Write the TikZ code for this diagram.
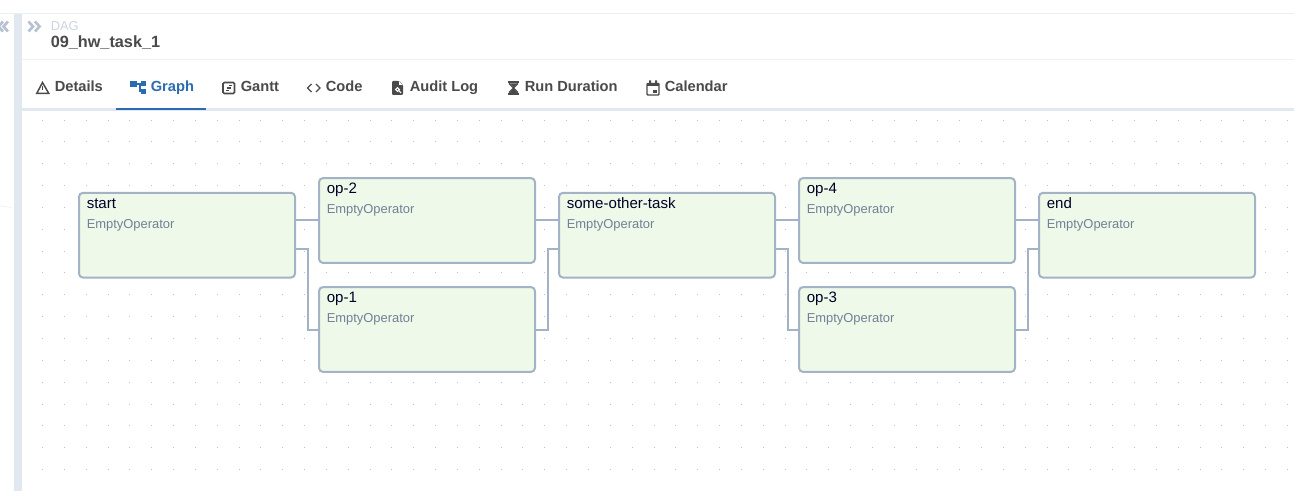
\documentclass[tikz,border=0pt]{standalone}
\usepackage{fontspec}
\setmainfont{Liberation Sans}
\definecolor{barblue}{HTML}{E2E8F0}
\definecolor{hairgray}{HTML}{EDF2F7}
\definecolor{edgegray}{HTML}{A4B2C5}
\definecolor{taskgreen}{HTML}{EEF9EA}
\definecolor{tabgray}{HTML}{4A4A4A}
\definecolor{tabblue}{HTML}{2B6CB0}
\definecolor{opgray}{HTML}{718096}
\definecolor{daggray}{HTML}{CBD5E0}
\tikzset{
  taskbox/.style={draw=edgegray,fill=taskgreen,line width=1.5pt,rounded corners=3pt,minimum width=162pt,minimum height=63.6pt,inner sep=0pt},
  tasktitle/.style={anchor=base west,inner sep=0pt,font=\fontsize{11.3}{13}\selectfont,text=black!85!blue},
  taskop/.style={anchor=base west,inner sep=0pt,font=\fontsize{9.7}{11}\selectfont,text=opgray},
  tabtext/.style={anchor=base west,inner sep=0pt,font=\fontsize{11}{13}\selectfont\bfseries,text=tabgray},
  dep/.style={draw=edgegray,line width=1.5pt},
}
\begin{document}
\begin{tikzpicture}[x=.75pt,y=-.75pt]
  \useasboundingbox (0,0) rectangle (1294,491);
  \fill[white] (0,0) rectangle (1294,491);
  % dotted canvas
  \foreach \i in {0,...,57}{
    \foreach \j in {0,...,17}{
      \fill[black!25] ({42+21.84*\i},{119.6+21.84*\j}) rectangle ++(1,1);
    }
  }
  % page frame
  \fill[hairgray!70!barblue] (0,13) rectangle (1294,14.5);
  \fill[barblue] (14,14) rectangle (21.5,491);
  \fill[white] (21.5,14.5) rectangle (1294,108);
  \fill[hairgray] (21.5,59) rectangle (1294,60);
  \fill[barblue] (21.5,108) rectangle (1294,111);
  \fill[tabblue] (116,108) rectangle (206,110.5);
  \draw[barblue!60,line width=.5pt] (0,206)--(12,207.5);
  % chevrons
  \draw[edgegray!80,line width=2pt] (3,21.5)--(-1.5,26.5)--(3,31.5);
  \draw[edgegray!80,line width=2pt] (8,21.5)--(3.5,26.5)--(8,31.5);
  \draw[edgegray!80,line width=2pt] (28.5,21.5)--(33,26.5)--(28.5,31.5);
  \draw[edgegray!80,line width=2pt] (35,21.5)--(39.5,26.5)--(35,31.5);
  \node[anchor=base west,inner sep=0pt,font=\fontsize{9.7}{11}\selectfont,text=daggray] (daglabel) at (50.5,31) {DAG};
  \node[anchor=base west,inner sep=0pt,font=\fontsize{12.2}{14}\selectfont\bfseries,text=tabgray] (dagname) at (50.5,48) {09\_hw\_task\_1};
  % tabs
  \node[tabtext] (details) at (54.5,91.7) {Details};
  \node[tabtext,text=tabblue] (graph) at (150.5,91.7) {Graph};
  \node[tabtext] (gantt) at (240.5,91.7) {Gantt};
  \node[tabtext] (code) at (325.5,91.7) {Code};
  \node[tabtext] (audit) at (409.5,91.7) {Audit Log};
  \node[tabtext] (duration) at (524.5,91.7) {Run Duration};
  \node[tabtext] (calendar) at (664.5,91.7) {Calendar};
  % tab icons
  \draw[tabgray,line width=1.1pt,line join=miter] (42.5,82.5)--(36.8,93.3)--(48.7,93.3)--cycle;
  \draw[tabgray,line width=.9pt] (42.7,86.5)--(42.7,90);
  \fill[tabblue] (130,81.5) rectangle (136.5,87.5);
  \fill[tabblue] (141,81.5) rectangle (146,86);
  \fill[tabblue] (141,89) rectangle (146,94);
  \draw[tabblue,line width=.9pt] (136,84)--(143,84) (140,84)--(140,91.5)--(142,91.5);
  \draw[tabgray,line width=1.2pt,rounded corners=1pt] (223,82.5) rectangle (234.5,93.5);
  \draw[tabgray,line width=1pt] (228.5,85.5)--(232,85.5) (226.5,88)--(231,88) (226,90.8)--(229,90.8);
  \draw[tabgray,line width=1pt] (311.5,84)--(307.5,88)--(311.5,92);
  \draw[tabgray,line width=1pt] (316,84)--(320,88)--(316,92);
  \fill[tabgray,rounded corners=.8pt] (392,81)--(399,81)--(403,85)--(403,95)--(392,95)--cycle;
  \fill[white] (399,81.5)--(399,85)--(402.5,85)--cycle;
  \draw[white,line width=.8pt] (397.5,89.5) circle (1.8) (399,91)--(401,93);
  \fill[tabgray] (508,81) rectangle (519,83);
  \fill[tabgray] (508,93) rectangle (519,95);
  \draw[tabgray,line width=1pt] (509.5,83)--(509.5,84)--(513.5,88)--(509.5,92)--(509.5,93) (517.5,83)--(517.5,84)--(513.5,88)--(517.5,92)--(517.5,93);
  \fill[tabgray] (513.5,88)--(509,94)--(518,94)--cycle;
  \fill[tabgray] (510,83.5)--(517,83.5)--(513.5,87)--cycle;
  \draw[tabgray,line width=1.1pt,rounded corners=.6pt] (647,83.5) rectangle (659,95);
  \fill[tabgray] (647,83) rectangle (659,86.5);
  \fill[tabgray] (649,80.5) rectangle (651,83) (655,80.5) rectangle (657,83);
  \fill[tabgray] (653,90) rectangle (656.5,93);
  % task boxes
  \node[taskbox] (start) at (187,235.2) {};
  \node[taskbox] (op2) at (427,220.5) {};
  \node[taskbox] (op1) at (427,329.5) {};
  \node[taskbox] (other) at (667,235.2) {};
  \node[taskbox] (op4) at (907,220.5) {};
  \node[taskbox] (op3) at (907,329.5) {};
  \node[taskbox] (end) at (1147,235.2) {};
  % task labels
  \node[tasktitle] (starttitle) at (86.5,208.8) {start};
  \node[taskop] (startop) at (86.5,228.8) {EmptyOperator};
  \node[tasktitle] (op2title) at (326.5,193.8) {op-2};
  \node[taskop] (op2op) at (326.5,213.8) {EmptyOperator};
  \node[tasktitle] (op1title) at (326.5,302.8) {op-1};
  \node[taskop] (op1op) at (326.5,322.8) {EmptyOperator};
  \node[tasktitle] (othertitle) at (566.5,208.8) {some-other-task};
  \node[taskop] (otherop) at (566.5,228.8) {EmptyOperator};
  \node[tasktitle] (op4title) at (806.5,193.8) {op-4};
  \node[taskop] (op4op) at (806.5,213.8) {EmptyOperator};
  \node[tasktitle] (op3title) at (806.5,302.8) {op-3};
  \node[taskop] (op3op) at (806.5,322.8) {EmptyOperator};
  \node[tasktitle] (endtitle) at (1046.5,208.8) {end};
  \node[taskop] (endop) at (1046.5,228.8) {EmptyOperator};
  % dependencies
  \draw[dep] (start.east |- op2.west)--(op2.west);
  \draw[dep] ([yshift=-10.5pt]start.east)--++(11.5,0)|-(op1.west);
  \draw[dep] (op2.east)--(other.west |- op2.east);
  \draw[dep] (op1.east)--++(11.5,0)|-([yshift=-10.5pt]other.west);
  \draw[dep] (other.east |- op4.west)--(op4.west);
  \draw[dep] ([yshift=-10.5pt]other.east)--++(11.5,0)|-(op3.west);
  \draw[dep] (op4.east)--(end.west |- op4.east);
  \draw[dep] (op3.east)--++(11.5,0)|-([yshift=-10.5pt]end.west);
\end{tikzpicture}
\end{document}
